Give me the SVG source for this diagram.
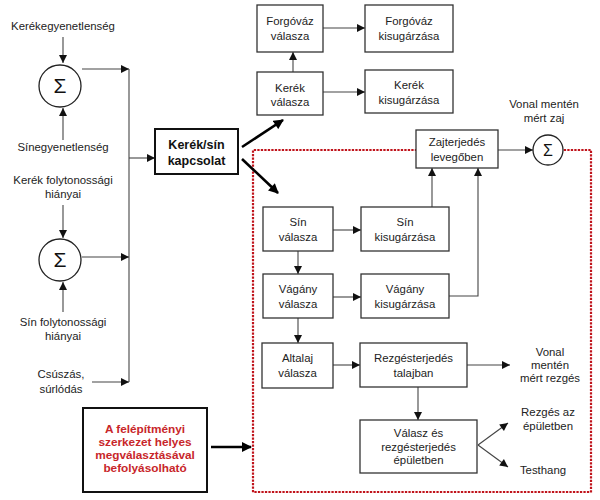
<svg xmlns="http://www.w3.org/2000/svg" width="600" height="500" viewBox="0 0 600 500">
<defs>
<marker id="ah" viewBox="0 0 10 10" refX="10" refY="5" markerWidth="9" markerHeight="8" markerUnits="userSpaceOnUse" orient="auto"><path d="M0,0 L10,5 L0,10 z" fill="#111"/></marker>
<marker id="ahb" viewBox="0 0 10 10" refX="9" refY="5" markerWidth="11" markerHeight="10" markerUnits="userSpaceOnUse" orient="auto"><path d="M0,0 L10,5 L0,10 z" fill="#000"/></marker>
</defs>
<style>
text{font-family:"Liberation Sans",Arial,sans-serif;font-size:11.4px;fill:#222;text-anchor:middle}
.box{fill:#fff;stroke:#333;stroke-width:1.3}
.thick{fill:#fff;stroke:#111;stroke-width:2}
.c{fill:#fff;stroke:#222;stroke-width:1.3}
.ln{fill:none;stroke:#444;stroke-width:1.1;marker-end:url(#ah)}
.pl{fill:none;stroke:#444;stroke-width:1.1}
.tk{fill:none;stroke:#000;stroke-width:2.6;marker-end:url(#ahb)}
.b{font-weight:bold;font-size:12.5px;fill:#111}
.r{font-weight:bold;font-size:11.8px;fill:#c8262a}
.sig{font-size:21px;fill:#111}
</style>
<rect width="600" height="500" fill="#fff"/>
<path d="M416,150 H253 V492 H591 V150 H564" fill="none" stroke="#c0141c" stroke-width="2.2" stroke-dasharray="0.1 3.4" stroke-linecap="square"/>
<g id="connectors">
<line class="ln" x1="63" y1="37" x2="63" y2="63"/>
<line class="ln" x1="63" y1="140" x2="63" y2="108"/>
<line class="ln" x1="82" y1="69" x2="129" y2="69"/>
<line class="pl" x1="129" y1="69" x2="129" y2="382"/>
<line class="ln" x1="129" y1="158" x2="155" y2="158"/>
<line class="ln" x1="63" y1="205" x2="63" y2="238"/>
<line class="ln" x1="63" y1="312" x2="63" y2="282"/>
<line class="ln" x1="82" y1="257" x2="129" y2="257"/>
<line class="ln" x1="92" y1="382" x2="129" y2="382"/>
<line class="tk" x1="242" y1="147" x2="283" y2="120"/>
<line class="tk" x1="242" y1="159" x2="278" y2="193"/>
<line class="tk" x1="211" y1="447" x2="251" y2="447"/>
<line class="ln" x1="293" y1="72" x2="293" y2="52"/>
<line class="ln" x1="323" y1="28" x2="365" y2="28"/>
<line class="ln" x1="323" y1="92" x2="365" y2="92"/>
<line class="ln" x1="498" y1="150" x2="533" y2="150"/>
<line class="ln" x1="432" y1="207" x2="432" y2="168"/>
<polyline class="ln" points="449,296 478,296 478,168"/>
<line class="ln" x1="333" y1="230" x2="361" y2="230"/>
<line class="ln" x1="333" y1="297" x2="361" y2="297"/>
<line class="ln" x1="298" y1="251" x2="298" y2="274"/>
<line class="ln" x1="298" y1="318" x2="298" y2="343"/>
<line class="ln" x1="333" y1="365" x2="360" y2="365"/>
<line class="ln" x1="467" y1="365" x2="510" y2="365"/>
<line class="ln" x1="418" y1="387" x2="418" y2="420"/>
<line class="ln" x1="478" y1="445" x2="508" y2="423"/>
<line class="ln" x1="478" y1="445" x2="508" y2="467"/>
</g>
<g id="in1"><text x="63" y="30">Kerékegyenetlenség</text></g>
<g id="sum1"><circle class="c" cx="60" cy="86" r="21"/><text class="sig" x="60" y="93">Σ</text></g>
<g id="in2"><text x="63" y="151">Sínegyenetlenség</text></g>
<g id="in3"><text x="63" y="184">Kerék folytonossági</text><text x="63" y="198">hiányai</text></g>
<g id="sum2"><circle class="c" cx="60" cy="260" r="21"/><text class="sig" x="60" y="267">Σ</text></g>
<g id="in4"><text x="63" y="326">Sín folytonossági</text><text x="63" y="340">hiányai</text></g>
<g id="in5"><text x="61" y="378">Csúszás,</text><text x="61" y="393">súrlódás</text></g>
<g id="kapcsolat"><rect class="thick" x="155" y="129" width="83" height="45"/><text class="b" x="196.5" y="149">Kerék/sín</text><text class="b" x="196.5" y="165">kapcsolat</text></g>
<g id="felepitmeny"><rect class="thick" x="83" y="408" width="124" height="84"/><text class="r" x="145" y="433">A felépítményi</text><text class="r" x="145" y="446">szerkezet helyes</text><text class="r" x="145" y="459">megválasztásával</text><text class="r" x="145" y="472">befolyásolható</text></g>
<g id="forgovaz"><rect class="box" x="257" y="5" width="66" height="47"/><text x="290" y="25">Forgóváz</text><text x="290" y="40">válasza</text></g>
<g id="forgovazkis"><rect class="box" x="365" y="5" width="88" height="47"/><text x="409" y="25">Forgóváz</text><text x="409" y="40">kisugárzása</text></g>
<g id="kerek"><rect class="box" x="257" y="72" width="66" height="43"/><text x="290" y="92">Kerék</text><text x="290" y="106">válasza</text></g>
<g id="kerekkis"><rect class="box" x="365" y="70" width="88" height="43"/><text x="409" y="89">Kerék</text><text x="409" y="104">kisugárzása</text></g>
<g id="zaj"><rect class="box" x="416" y="130" width="82" height="38"/><text x="457" y="146">Zajterjedés</text><text x="457" y="161">levegőben</text></g>
<g id="zajsum"><text x="544" y="108">Vonal mentén</text><text x="544" y="122">mért zaj</text><circle class="c" cx="548" cy="150" r="15"/><text x="548" y="156" style="font-size:16px;fill:#111">Σ</text></g>
<g id="sin"><rect class="box" x="263" y="207" width="70" height="44"/><text x="298" y="226">Sín</text><text x="298" y="241">válasza</text></g>
<g id="sinkis"><rect class="box" x="361" y="207" width="88" height="44"/><text x="405" y="226">Sín</text><text x="405" y="241">kisugárzása</text></g>
<g id="vagany"><rect class="box" x="263" y="274" width="70" height="44"/><text x="298" y="293">Vágány</text><text x="298" y="308">válasza</text></g>
<g id="vaganykis"><rect class="box" x="361" y="274" width="88" height="44"/><text x="405" y="293">Vágány</text><text x="405" y="308">kisugárzása</text></g>
<g id="altalaj"><rect class="box" x="262" y="343" width="71" height="45"/><text x="297.5" y="362">Altalaj</text><text x="297.5" y="377">válasza</text></g>
<g id="talaj"><rect class="box" x="360" y="343" width="107" height="44"/><text x="413.5" y="362">Rezgésterjedés</text><text x="413.5" y="377">talajban</text></g>
<g id="vonalrezges"><text x="550" y="356">Vonal</text><text x="550" y="369">mentén</text><text x="550" y="382">mért rezgés</text></g>
<g id="epulet"><rect class="box" x="360" y="420" width="117" height="53"/><text x="418.5" y="437">Válasz és</text><text x="418.5" y="451">rezgésterjedés</text><text x="418.5" y="464">épületben</text></g>
<g id="rezgesepulet"><text x="548" y="416">Rezgés az</text><text x="548" y="430">épületben</text></g>
<g id="testhang"><text x="543" y="474">Testhang</text></g>
</svg>
